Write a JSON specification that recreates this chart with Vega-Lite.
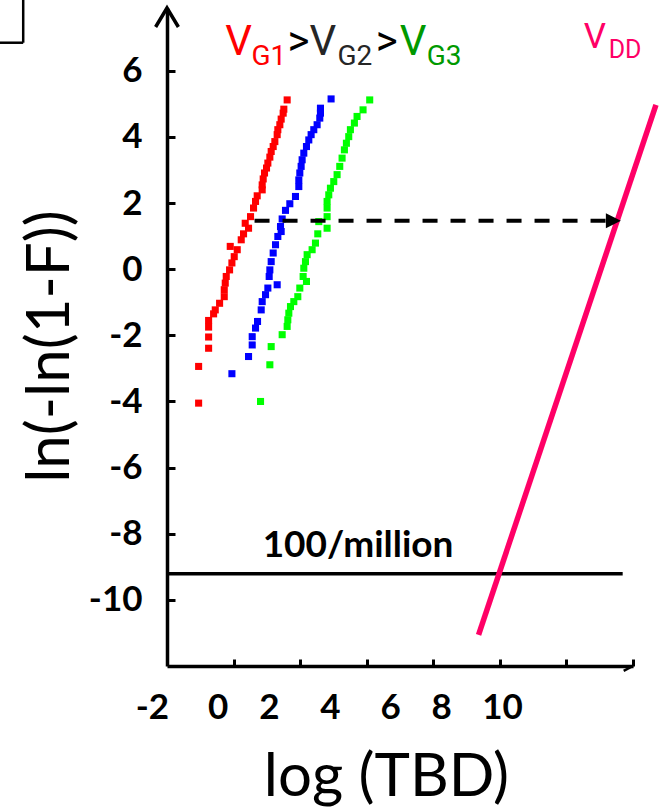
{
  "$schema": "https://vega.github.io/schema/vega-lite/v6.json",
  "width": 466,
  "height": 658,
  "autosize": {"type": "none"},
  "padding": {"left": 167, "top": 8, "right": 30, "bottom": 141},
  "background": "white",
  "config": {"view": {"stroke": null}, "axis": {"grid": false}},
  "datasets": {
    "pts": [
      {"t": 1.61, "w": 5.12, "gate": "VG1"}, {"t": 1.51, "w": 4.84, "gate": "VG1"}, {"t": 1.49, "w": 4.72, "gate": "VG1"},
      {"t": 1.43, "w": 4.54, "gate": "VG1"}, {"t": 1.39, "w": 4.37, "gate": "VG1"}, {"t": 1.33, "w": 4.22, "gate": "VG1"},
      {"t": 1.31, "w": 4.07, "gate": "VG1"}, {"t": 1.24, "w": 3.86, "gate": "VG1"}, {"t": 1.19, "w": 3.71, "gate": "VG1"},
      {"t": 1.13, "w": 3.56, "gate": "VG1"}, {"t": 1.09, "w": 3.39, "gate": "VG1"}, {"t": 1.03, "w": 3.21, "gate": "VG1"},
      {"t": 0.99, "w": 3.06, "gate": "VG1"}, {"t": 0.93, "w": 2.91, "gate": "VG1"}, {"t": 0.89, "w": 2.73, "gate": "VG1"},
      {"t": 0.86, "w": 2.55, "gate": "VG1"}, {"t": 0.86, "w": 2.40, "gate": "VG1"}, {"t": 0.71, "w": 2.22, "gate": "VG1"},
      {"t": 0.66, "w": 2.05, "gate": "VG1"}, {"t": 0.60, "w": 1.85, "gate": "VG1"}, {"t": 0.51, "w": 1.59, "gate": "VG1"},
      {"t": 0.35, "w": 1.39, "gate": "VG1"}, {"t": 0.45, "w": 1.24, "gate": "VG1"}, {"t": 0.30, "w": 1.07, "gate": "VG1"},
      {"t": 0.23, "w": 0.89, "gate": "VG1"}, {"t": -0.10, "w": 0.69, "gate": "VG1"}, {"t": 0.11, "w": 0.59, "gate": "VG1"},
      {"t": 0.02, "w": 0.38, "gate": "VG1"}, {"t": -0.05, "w": 0.19, "gate": "VG1"}, {"t": -0.12, "w": -0.02, "gate": "VG1"},
      {"t": -0.22, "w": -0.22, "gate": "VG1"}, {"t": -0.25, "w": -0.42, "gate": "VG1"}, {"t": -0.28, "w": -0.62, "gate": "VG1"},
      {"t": -0.28, "w": -0.83, "gate": "VG1"}, {"t": -0.42, "w": -1.03, "gate": "VG1"}, {"t": -0.55, "w": -1.23, "gate": "VG1"},
      {"t": -0.60, "w": -1.35, "gate": "VG1"}, {"t": -0.75, "w": -1.55, "gate": "VG1"}, {"t": -0.75, "w": -1.75, "gate": "VG1"},
      {"t": -0.75, "w": -2.05, "gate": "VG1"}, {"t": -0.75, "w": -2.39, "gate": "VG1"}, {"t": -1.05, "w": -2.94, "gate": "VG1"},
      {"t": -1.05, "w": -4.05, "gate": "VG1"},
      {"t": 2.93, "w": 5.15, "gate": "VG2"}, {"t": 2.61, "w": 4.87, "gate": "VG2"}, {"t": 2.61, "w": 4.72, "gate": "VG2"},
      {"t": 2.59, "w": 4.57, "gate": "VG2"}, {"t": 2.51, "w": 4.37, "gate": "VG2"}, {"t": 2.41, "w": 4.22, "gate": "VG2"},
      {"t": 2.33, "w": 4.07, "gate": "VG2"}, {"t": 2.26, "w": 3.91, "gate": "VG2"}, {"t": 2.19, "w": 3.71, "gate": "VG2"},
      {"t": 2.11, "w": 3.51, "gate": "VG2"}, {"t": 2.06, "w": 3.31, "gate": "VG2"}, {"t": 2.03, "w": 3.11, "gate": "VG2"},
      {"t": 1.99, "w": 2.91, "gate": "VG2"}, {"t": 1.96, "w": 2.70, "gate": "VG2"}, {"t": 1.96, "w": 2.50, "gate": "VG2"},
      {"t": 1.86, "w": 2.20, "gate": "VG2"}, {"t": 1.69, "w": 1.98, "gate": "VG2"}, {"t": 1.56, "w": 1.78, "gate": "VG2"},
      {"t": 1.46, "w": 1.52, "gate": "VG2"}, {"t": 1.41, "w": 1.29, "gate": "VG2"}, {"t": 1.43, "w": 1.14, "gate": "VG2"},
      {"t": 1.33, "w": 0.99, "gate": "VG2"}, {"t": 1.26, "w": 0.74, "gate": "VG2"}, {"t": 1.19, "w": 0.49, "gate": "VG2"},
      {"t": 1.13, "w": 0.23, "gate": "VG2"}, {"t": 1.09, "w": -0.02, "gate": "VG2"}, {"t": 1.07, "w": -0.22, "gate": "VG2"},
      {"t": 1.31, "w": -0.47, "gate": "VG2"}, {"t": 1.03, "w": -0.57, "gate": "VG2"}, {"t": 0.96, "w": -0.77, "gate": "VG2"},
      {"t": 0.86, "w": -0.98, "gate": "VG2"}, {"t": 0.83, "w": -1.23, "gate": "VG2"}, {"t": 0.72, "w": -1.58, "gate": "VG2"},
      {"t": 0.66, "w": -1.78, "gate": "VG2"}, {"t": 0.56, "w": -2.04, "gate": "VG2"}, {"t": 0.56, "w": -2.29, "gate": "VG2"},
      {"t": 0.45, "w": -2.64, "gate": "VG2"}, {"t": -0.05, "w": -3.16, "gate": "VG2"},
      {"t": 4.09, "w": 5.12, "gate": "VG3"}, {"t": 3.89, "w": 4.82, "gate": "VG3"}, {"t": 3.71, "w": 4.62, "gate": "VG3"},
      {"t": 3.63, "w": 4.42, "gate": "VG3"}, {"t": 3.51, "w": 4.22, "gate": "VG3"}, {"t": 3.46, "w": 4.01, "gate": "VG3"},
      {"t": 3.39, "w": 3.81, "gate": "VG3"}, {"t": 3.33, "w": 3.61, "gate": "VG3"}, {"t": 3.26, "w": 3.36, "gate": "VG3"},
      {"t": 3.19, "w": 3.11, "gate": "VG3"}, {"t": 3.11, "w": 2.86, "gate": "VG3"}, {"t": 3.01, "w": 2.65, "gate": "VG3"},
      {"t": 2.91, "w": 2.45, "gate": "VG3"}, {"t": 2.86, "w": 2.25, "gate": "VG3"}, {"t": 2.81, "w": 2.05, "gate": "VG3"},
      {"t": 2.81, "w": 1.85, "gate": "VG3"}, {"t": 2.81, "w": 1.59, "gate": "VG3"}, {"t": 2.56, "w": 1.44, "gate": "VG3"},
      {"t": 2.81, "w": 1.24, "gate": "VG3"}, {"t": 2.53, "w": 1.07, "gate": "VG3"}, {"t": 2.46, "w": 0.79, "gate": "VG3"},
      {"t": 2.36, "w": 0.59, "gate": "VG3"}, {"t": 2.21, "w": 0.44, "gate": "VG3"}, {"t": 2.16, "w": 0.23, "gate": "VG3"},
      {"t": 2.11, "w": 0.03, "gate": "VG3"}, {"t": 2.09, "w": -0.22, "gate": "VG3"}, {"t": 2.19, "w": -0.37, "gate": "VG3"},
      {"t": 1.99, "w": -0.57, "gate": "VG3"}, {"t": 1.93, "w": -0.83, "gate": "VG3"}, {"t": 1.81, "w": -0.98, "gate": "VG3"},
      {"t": 1.71, "w": -1.13, "gate": "VG3"}, {"t": 1.66, "w": -1.33, "gate": "VG3"}, {"t": 1.63, "w": -1.53, "gate": "VG3"},
      {"t": 1.61, "w": -1.73, "gate": "VG3"}, {"t": 1.46, "w": -1.98, "gate": "VG3"}, {"t": 1.13, "w": -2.34, "gate": "VG3"},
      {"t": 1.09, "w": -2.89, "gate": "VG3"}, {"t": 0.81, "w": -4.00, "gate": "VG3"}
    ],
    "vdd": [{"x1": 12.69, "y1": 4.97, "x2": 7.36, "y2": -11.06}],
    "limit": [{"x1": -2, "x2": 11.69, "y1": -9.21}],
    "dash": [{"x1": 0.63, "x2": 11.25, "y1": 1.464}],
    "arrowhead": [{"x1": 11.41, "y1": 1.464}],
    "yarrow": [{"x1": -2, "y1": 7.9}],
    "frame": [
      {"x1": -7.2, "y1": 6.85, "x2": -6.32, "y2": 6.85},
      {"x1": -6.32, "y1": 6.85, "x2": -6.32, "y2": 8.4},
      {"x1": 11.72, "y1": -12.15, "x2": 12, "y2": -12}
    ],
    "xlabels": [
      {"x1": -2.44, "y1": -13.6, "s": "-2"}, {"x1": -0.46, "y1": -13.6, "s": "0"},
      {"x1": 1.08, "y1": -13.6, "s": "2"}, {"x1": 2.91, "y1": -13.6, "s": "4"},
      {"x1": 4.72, "y1": -13.6, "s": "6"}, {"x1": 6.25, "y1": -13.6, "s": "8"},
      {"x1": 8.08, "y1": -13.6, "s": "10"}
    ],
    "notes": [{"x1": 3.74, "y1": -8.7, "s": "100/million"}],
    "legendBig": [
      {"x1": -0.25, "y1": 6.485, "s": "V", "c": "G1"},
      {"x1": 1.62, "y1": 6.485, "s": ">", "c": "gt"},
      {"x1": 2.28, "y1": 6.485, "s": "V", "c": "G2"},
      {"x1": 4.27, "y1": 6.485, "s": ">", "c": "gt"},
      {"x1": 4.99, "y1": 6.485, "s": "V", "c": "G3"}
    ],
    "legendSub": [
      {"x1": 0.535, "y1": 6.183, "s": "G1", "c": "G1"},
      {"x1": 3.12, "y1": 6.183, "s": "G2", "c": "G2"},
      {"x1": 5.8, "y1": 6.183, "s": "G3", "c": "G3"}
    ],
    "vddBig": [{"x1": 10.52, "y1": 6.697, "s": "V"}],
    "vddSub": [{"x1": 11.27, "y1": 6.394, "s": "DD"}]
  },
  "layer": [
    {
      "data": {"name": "pts"},
      "mark": {"type": "square", "size": 50, "opacity": 1, "filled": true},
      "encoding": {
        "x": {
          "field": "t", "type": "quantitative",
          "scale": {"domain": [-2, 12], "nice": false, "zero": false},
          "axis": {
            "values": [0, 2, 4, 6, 8, 10, 12], "labels": false,
            "domainColor": "black", "domainWidth": 3.5,
            "tickColor": "black", "tickWidth": 3, "tickSize": -7,
            "title": "log (TBD)", "titleFont": "Lato", "titleFontWeight": "normal",
            "titleFontSize": 60, "titleColor": "black",
            "titleX": 219, "titleY": 129, "titleAlign": "center", "titleBaseline": "alphabetic"
          }
        },
        "y": {
          "field": "w", "type": "quantitative",
          "scale": {"domain": [-12, 7.9], "nice": false, "zero": false},
          "axis": {
            "values": [-10, -8, -6, -4, -2, 0, 2, 4, 6],
            "labelExpr": "datum.value + ''",
            "domainColor": "black", "domainWidth": 3.5,
            "tickColor": "black", "tickWidth": 3, "tickSize": -8,
            "labelFont": "Lato", "labelFontWeight": "bold", "labelFontSize": 35,
            "labelColor": "black", "labelPadding": 33, "labelFlush": false,
            "title": "ln(-ln(1-F))", "titleFont": "Lato", "titleFontWeight": "normal",
            "titleFontSize": 60, "titleColor": "black", "titleAngle": -90,
            "titleX": -99, "titleY": 338, "titleAlign": "center", "titleBaseline": "alphabetic"
          }
        },
        "color": {
          "field": "gate", "type": "nominal",
          "scale": {"domain": ["VG1", "VG2", "VG3"], "range": ["#ff0000", "#0000ff", "#00ff00"]},
          "legend": null
        }
      }
    },
    {
      "data": {"name": "limit"},
      "mark": {"type": "rule", "color": "black", "strokeWidth": 3.5},
      "encoding": {
        "x": {"field": "x1", "type": "quantitative"},
        "x2": {"field": "x2"},
        "y": {"field": "y1", "type": "quantitative"}
      }
    },
    {
      "data": {"name": "vdd"},
      "mark": {"type": "rule", "color": "#ff0066", "strokeWidth": 5.5},
      "encoding": {
        "x": {"field": "x1", "type": "quantitative"},
        "x2": {"field": "x2"},
        "y": {"field": "y1", "type": "quantitative"},
        "y2": {"field": "y2"}
      }
    },
    {
      "data": {"name": "dash"},
      "mark": {"type": "rule", "color": "black", "strokeWidth": 4, "strokeDash": [15, 13]},
      "encoding": {
        "x": {"field": "x1", "type": "quantitative"},
        "x2": {"field": "x2"},
        "y": {"field": "y1", "type": "quantitative"}
      }
    },
    {
      "data": {"name": "arrowhead"},
      "mark": {"type": "point", "shape": "M-1,-1L1,0L-1,1Z", "size": 225, "filled": true, "color": "black", "opacity": 1},
      "encoding": {
        "x": {"field": "x1", "type": "quantitative"},
        "y": {"field": "y1", "type": "quantitative"}
      }
    },
    {
      "data": {"name": "yarrow"},
      "mark": {"type": "point", "shape": "M-0.6,1L0,0L0.6,1", "size": 1444, "filled": false, "color": "black", "strokeWidth": 3.5, "opacity": 1},
      "encoding": {
        "x": {"field": "x1", "type": "quantitative"},
        "y": {"field": "y1", "type": "quantitative"}
      }
    },
    {
      "data": {"name": "frame"},
      "mark": {"type": "rule", "color": "black", "strokeWidth": 2.5},
      "encoding": {
        "x": {"field": "x1", "type": "quantitative"},
        "x2": {"field": "x2"},
        "y": {"field": "y1", "type": "quantitative"},
        "y2": {"field": "y2"}
      }
    },
    {
      "data": {"name": "xlabels"},
      "mark": {"type": "text", "font": "Lato", "fontWeight": "bold", "fontSize": 35, "color": "black", "align": "center", "baseline": "alphabetic"},
      "encoding": {
        "x": {"field": "x1", "type": "quantitative"},
        "y": {"field": "y1", "type": "quantitative"},
        "text": {"field": "s"}
      }
    },
    {
      "data": {"name": "notes"},
      "mark": {"type": "text", "font": "Lato", "fontWeight": "bold", "fontSize": 37, "color": "black", "align": "center", "baseline": "alphabetic"},
      "encoding": {
        "x": {"field": "x1", "type": "quantitative"},
        "y": {"field": "y1", "type": "quantitative"},
        "text": {"field": "s"}
      }
    },
    {
      "data": {"name": "legendBig"},
      "mark": {"type": "text", "font": "Roboto", "fontSize": 42, "align": "left", "baseline": "alphabetic"},
      "encoding": {
        "x": {"field": "x1", "type": "quantitative"},
        "y": {"field": "y1", "type": "quantitative"},
        "text": {"field": "s"},
        "color": {
          "field": "c", "type": "nominal",
          "scale": {"domain": ["G1", "G2", "G3", "gt"], "range": ["#ff0000", "#262626", "#009900", "#000000"]},
          "legend": null
        }
      }
    },
    {
      "data": {"name": "legendSub"},
      "mark": {"type": "text", "font": "Roboto", "fontSize": 28, "align": "left", "baseline": "alphabetic"},
      "encoding": {
        "x": {"field": "x1", "type": "quantitative"},
        "y": {"field": "y1", "type": "quantitative"},
        "text": {"field": "s"},
        "color": {
          "field": "c", "type": "nominal",
          "scale": {"domain": ["G1", "G2", "G3", "gt"], "range": ["#ff0000", "#262626", "#009900", "#000000"]},
          "legend": null
        }
      }
    },
    {
      "data": {"name": "vddBig"},
      "mark": {"type": "text", "font": "Roboto", "fontSize": 35, "align": "left", "baseline": "alphabetic", "color": "#ff0066"},
      "encoding": {
        "x": {"field": "x1", "type": "quantitative"},
        "y": {"field": "y1", "type": "quantitative"},
        "text": {"field": "s"}
      }
    },
    {
      "data": {"name": "vddSub"},
      "mark": {"type": "text", "font": "Roboto", "fontSize": 25, "align": "left", "baseline": "alphabetic", "color": "#ff0066"},
      "encoding": {
        "x": {"field": "x1", "type": "quantitative"},
        "y": {"field": "y1", "type": "quantitative"},
        "text": {"field": "s"}
      }
    }
  ],
  "resolve": {"scale": {"color": "independent"}}
}
